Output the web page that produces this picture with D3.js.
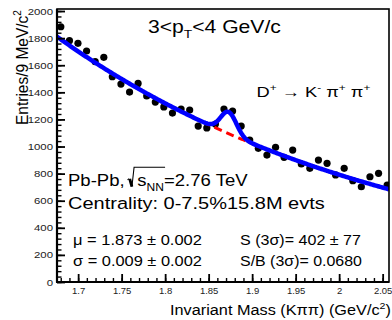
<!DOCTYPE html>
<html>
<head>
<meta charset="utf-8">
<script src="https://cdn.jsdelivr.net/npm/d3@7"></script>
<style>
  body { margin: 0; background: #fff; }
  svg { display: block; }
  text { font-family: "Liberation Sans", Arial, Helvetica, sans-serif; }
</style>
</head>
<body>
<svg id="chart" width="392" height="320"></svg>
<script>
// Invariant-mass bin centres (GeV/c^2) and entries per bin
const mass = [1.6801, 1.6900, 1.6998, 1.7097, 1.7196, 1.7295, 1.7393, 1.7492, 1.7591, 1.7689,
              1.7788, 1.7887, 1.7985, 1.8084, 1.8183, 1.8282, 1.8380, 1.8479, 1.8578, 1.8676,
              1.8775, 1.8874, 1.8972, 1.9071, 1.9170, 1.9269, 1.9367, 1.9466, 1.9565, 1.9663,
              1.9762, 1.9861, 1.9959, 2.0058, 2.0157, 2.0255, 2.0354, 2.0453, 2.0552];
const entries = [1884, 1781, 1762, 1705, 1626, 1658, 1515, 1461, 1402, 1466,
                 1373, 1328, 1292, 1247, 1277, 1269, 1151, 1137, 1166, 1277,
                 1262, 1151, 1048, 987, 937, 994, 920, 974, 871, 839,
                 900, 876, 790, 839, 748, 703, 777, 802, 716];

// Axis ticks
const xTicks = [1.7, 1.75, 1.8, 1.85, 1.9, 1.95, 2.0, 2.05];
const xTickLabels = ["1.7", "1.75", "1.8", "1.85", "1.9", "1.95", "2", "2.05"];
const yTicks = [0, 200, 400, 600, 800, 1000, 1200, 1400, 1600, 1800, 2000];
const yTickLabels = ["0", "200", "400", "600", "800", "1000", "1200", "1400", "1600", "1800", "2000"];

// Fit results: gaussian signal on an exponential background
const fitMean = 1.873, fitSigma = 0.009, fitSignal = 402, binWidth = 0.009;
const bkgNorm = 1702, bkgSlope = -2.55, bkgRef = 1.7;

const svg = d3.select("#chart");
const x = d3.scaleLinear().domain([1.6757, 2.0573]).range([57, 389]);
const y = d3.scaleLinear().domain([0, 2015]).range([282, 9]);

const bkg = m => bkgNorm * Math.exp(bkgSlope * (m - bkgRef));
const sigAmp = fitSignal * binWidth / (fitSigma * Math.sqrt(2 * Math.PI));
const total = m => bkg(m) + sigAmp * Math.exp(-0.5 * Math.pow((m - fitMean) / fitSigma, 2));
const [m0, m1] = x.domain();
const grid = d3.range(301).map(i => m0 + i * (m1 - m0) / 300);

svg.append("defs").append("clipPath").attr("id", "frame")
  .append("rect").attr("x", 57).attr("y", 9).attr("width", 332).attr("height", 273);

const plot = svg.append("g").attr("clip-path", "url(#frame)");

// data points
plot.selectAll("circle").data(mass).join("circle")
  .attr("cx", d => x(d))
  .attr("cy", (d, i) => y(entries[i]))
  .attr("r", 3.6)
  .attr("fill", "#000");

const line = f => d3.line().x(d => x(d)).y(d => y(f(d)))(grid);

// background-only fit (dashed red) under the full fit (blue)
plot.append("path").attr("d", line(bkg))
  .attr("fill", "none").attr("stroke", "#ff0000").attr("stroke-width", 3)
  .attr("stroke-dasharray", "8,5");
plot.append("path").attr("d", line(total))
  .attr("fill", "none").attr("stroke", "#0000ff").attr("stroke-width", 4.5)
  .attr("stroke-linejoin", "round");

// frame
svg.append("rect").attr("x", 57).attr("y", 9).attr("width", 332).attr("height", 273)
  .attr("fill", "none").attr("stroke", "#000").attr("stroke-width", 1.6);

// minor ticks
svg.append("g").attr("transform", "translate(0,282)")
  .call(d3.axisBottom(x).tickValues(x.ticks(40)).tickSizeInner(-4).tickSizeOuter(0).tickFormat(""))
  .call(g => g.select(".domain").remove())
  .selectAll("line").attr("stroke-width", 1.4);
svg.append("g").attr("transform", "translate(57,0)")
  .call(d3.axisLeft(y).tickValues(d3.range(0, 2001, 40)).tickSizeInner(-4.5).tickSizeOuter(0).tickFormat(""))
  .call(g => g.select(".domain").remove())
  .selectAll("line").attr("stroke-width", 1.4);

// major ticks and labels
const gx = svg.append("g").attr("transform", "translate(0,282)")
  .call(d3.axisBottom(x).tickValues(xTicks).tickSizeInner(-8).tickSizeOuter(0)
    .tickPadding(5.3).tickFormat((d, i) => xTickLabels[i]));
gx.select(".domain").remove();
gx.selectAll("line").attr("stroke-width", 1.8);
gx.selectAll("text").attr("font-size", 9.5).attr("fill", "#222")
  .attr("font-family", "'Liberation Sans', Arial, sans-serif");

const gy = svg.append("g").attr("transform", "translate(57,0)")
  .call(d3.axisLeft(y).tickValues(yTicks).tickSizeInner(-8).tickSizeOuter(0)
    .tickPadding(4).tickFormat((d, i) => yTickLabels[i]));
gy.select(".domain").remove();
gy.selectAll("line").attr("stroke-width", 1.8);
gy.selectAll("text").attr("font-size", 9.5).attr("fill", "#222")
  .attr("font-family", "'Liberation Sans', Arial, sans-serif")
  .attr("x", 0).attr("transform", "translate(-4,0) scale(1.2,1)");

// axis lines
svg.append("line").attr("x1", 57).attr("x2", 57).attr("y1", 9).attr("y2", 282.5)
  .attr("stroke", "#000").attr("stroke-width", 2.2);
svg.append("line").attr("x1", 56).attr("x2", 389).attr("y1", 282).attr("y2", 282)
  .attr("stroke", "#000").attr("stroke-width", 2.2);

// rich text: runs with optional sub/superscripts, stretched to a given width
function rich(parts, size) {
  const g = svg.append("g");
  const t = g.append("text").attr("font-size", size).attr("fill", "#000");
  let shift = 0;
  parts.forEach(p => {
    const target = p.sup ? -0.42 * size : p.sub ? 0.3 * size : 0;
    const ts = t.append("tspan").attr("dy", target - shift).text(p.t);
    if (p.sup || p.sub) ts.attr("font-size", size * 0.65);
    if (p.dx) ts.attr("dx", p.dx);
    shift = target;
  });
  return { g, t, w: t.node().getComputedTextLength() };
}
function place(parts, xl, base, size, width) {
  const r = rich(parts, size);
  r.g.attr("transform", `translate(${xl},${base}) scale(${width / r.w},1)`);
  return r;
}

place([{ t: "3<p" }, { t: "T", sub: 1 }, { t: "<4 GeV/c" }], 148, 33, 17.5, 133);
place([{ t: "D" }, { t: "+", sup: 1 }, { t: " \u2192 K" }, { t: "-", sup: 1 }, { t: " \u03c0" },
       { t: "+", sup: 1 }, { t: " \u03c0" }, { t: "+", sup: 1 }], 256.5, 97, 15, 114);

// Pb-Pb line with a drawn radical over s_NN
const pb = place([{ t: "Pb-Pb, " }, { t: "s", dx: 7 }, { t: "NN", sub: 1 }, { t: "=2.76 TeV" }],
                 68, 186, 17, 172);
{
  const n = pb.t.node(), e = 17;
  const xs = n.getStartPositionOfChar(7).x;
  const xe = n.getEndPositionOfChar(9).x;
  pb.g.append("path")
    .attr("d", `M${xs - 7},${-0.42 * e} L${xs - 5},${0.04 * e}`)
    .attr("stroke", "#000").attr("stroke-width", 2.6).attr("fill", "none");
  pb.g.append("path")
    .attr("d", `M${xs - 9},${-0.36 * e} L${xs - 7.5},${-0.44 * e} M${xs - 5},${0.04 * e} L${xs - 3},${-1.1 * e} L${xe + 1},${-1.1 * e}`)
    .attr("stroke", "#000").attr("stroke-width", 1).attr("fill", "none");
}

place([{ t: "Centrality: 0-7.5%15.8M evts" }], 68, 209, 16.5, 257);
place([{ t: "\u03bc = 1.873 \u00b1 0.002" }], 73, 245, 14.5, 129);
place([{ t: "\u03c3 = 0.009 \u00b1 0.002" }], 73, 266, 14.5, 129);
place([{ t: "S (3\u03c3)= 402 \u00b1 77" }], 240, 245, 14.5, 121);
place([{ t: "S/B (3\u03c3)= 0.0680" }], 240, 266, 14.5, 122);

// axis titles
place([{ t: "Invariant Mass (K\u03c0\u03c0) (GeV/c" }, { t: "2", sup: 1 }, { t: ")" }], 170, 315, 14.5, 221);
{
  const r = rich([{ t: "Entries/9 MeV/c" }, { t: "2", sup: 1 }], 15.5);
  r.g.attr("transform", `translate(28,125) rotate(-90) scale(${115 / r.w},1.12)`);
}
</script>
</body>
</html>
